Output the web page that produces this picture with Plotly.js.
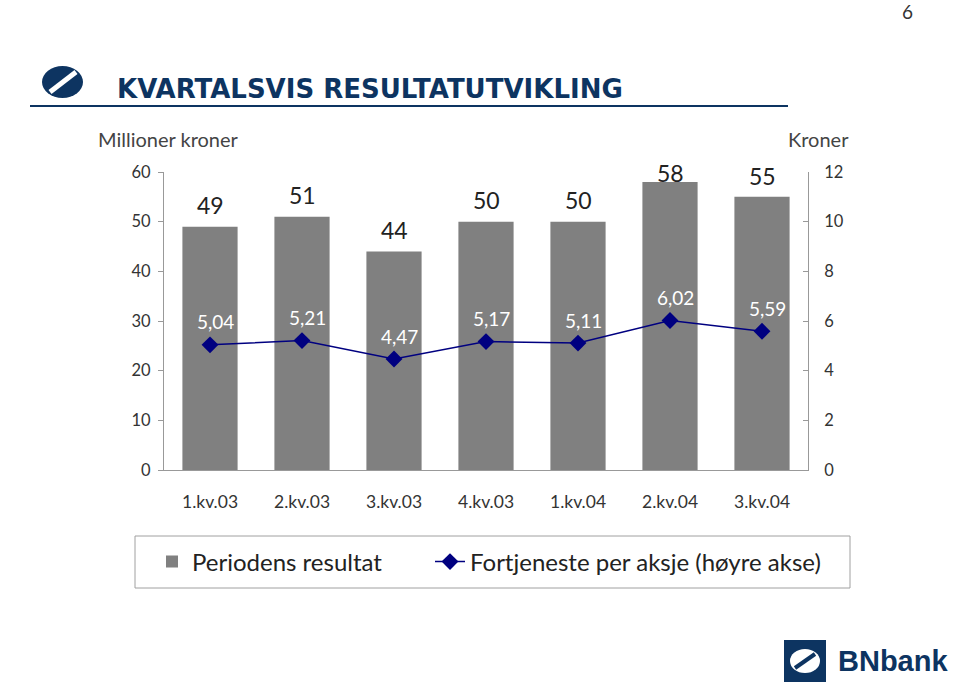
<!DOCTYPE html>
<html>
<head>
<meta charset="utf-8">
<script src="https://cdn.plot.ly/plotly-3.0.1.min.js"></script>
<style>
  html, body { margin: 0; padding: 0; background: #fff; }
  #chart { width: 960px; height: 685px; }
</style>
</head>
<body>
<div id="chart"></div>
<script>
// Kvartalsvis resultatutvikling
const quarters = ['1.kv.03', '2.kv.03', '3.kv.03', '4.kv.03', '1.kv.04', '2.kv.04', '3.kv.04'];
const resultat = [49, 51, 44, 50, 50, 58, 55];          // millioner kroner
const eps = [5.04, 5.21, 4.47, 5.17, 5.11, 6.02, 5.59];  // kroner, right axis

const FONT = 'Lato, "Open Sans", sans-serif';
const NAVY = '#0d3461';
const fmt = v => v.toFixed(2).replace('.', ',');

const barTrace = {
    x: quarters, y: resultat, type: 'bar', name: 'Periodens resultat',
    marker: {color: '#808080'}, hoverinfo: 'skip', legend: 'legend'
};
const lineTrace = {
    x: quarters, y: eps, type: 'scatter', mode: 'lines+markers', yaxis: 'y2',
    name: 'Fortjeneste per aksje (høyre akse)', legend: 'legend2',
    line: {color: '#000080', width: 1.5},
    marker: {symbol: 'diamond', size: 13, color: '#000080'}
};

// labels over bars / points
const barLift = [22, 22, 21, 22, 22, 9, 21];
const annotations = [];
quarters.forEach((q, i) => {
    annotations.push({x: q, y: resultat[i], xref: 'x', yref: 'y', text: String(resultat[i]),
        showarrow: false, yshift: barLift[i], font: {family: FONT, size: 23, color: '#222'}});
    annotations.push({x: q, y: eps[i], xref: 'x', yref: 'y2', text: fmt(eps[i]),
        showarrow: false, yshift: 23, xshift: 5, font: {family: FONT, size: 19, color: '#fff'}});
});

annotations.push(
    {xref: 'paper', yref: 'paper', x: -0.105, y: 1.11, xanchor: 'left', yanchor: 'middle',
     text: 'Millioner kroner', showarrow: false, font: {family: FONT, size: 20, color: '#444'}},
    {xref: 'paper', yref: 'paper', x: 1.067, y: 1.11, xanchor: 'right', yanchor: 'middle',
     text: 'Kroner', showarrow: false, font: {family: FONT, size: 20, color: '#444'}},
    {xref: 'paper', yref: 'paper', x: -0.076, y: 1.28, xanchor: 'left', yanchor: 'middle',
     text: '<b>KVARTALSVIS RESULTATUTVIKLING</b>', showarrow: false,
     font: {family: '"DejaVu Sans", sans-serif', size: 26, color: NAVY}},
    {xref: 'paper', yref: 'paper', x: 1.155, y: 1.54, xanchor: 'center', yanchor: 'middle',
     text: '6', showarrow: false, font: {family: FONT, size: 19, color: '#333'}},
    {xref: 'paper', yref: 'paper', x: (836 - 164) / 644, y: -0.64, xanchor: 'left', yanchor: 'middle',
     text: '<b>BNbank</b>', showarrow: false,
     font: {family: '"Liberation Sans", Arial, sans-serif', size: 29, color: NAVY}}
);

const px = x => (x - 164) / 644;
const py = y => (470 - y) / 298;

const shapes = [
    // title underline
    {type: 'line', xref: 'paper', yref: 'paper', x0: px(30), x1: px(788), y0: py(106), y1: py(106),
     line: {color: NAVY, width: 2}},
    // top logo
    {type: 'circle', xref: 'paper', yref: 'paper', x0: px(42), x1: px(83), y0: py(98), y1: py(66),
     fillcolor: NAVY, line: {width: 0}},
    {type: 'line', xref: 'paper', yref: 'paper', x0: px(50), x1: px(76), y0: py(92), y1: py(72),
     line: {color: '#fff', width: 5}},
    // legend box
    {type: 'rect', xref: 'paper', yref: 'paper', x0: px(135), x1: px(850), y0: py(588), y1: py(536),
     line: {color: '#a0a0a0', width: 1}},
    // bottom logo
    {type: 'rect', xref: 'paper', yref: 'paper', x0: px(784), x1: px(826), y0: py(682), y1: py(640),
     fillcolor: NAVY, line: {width: 0}},
    {type: 'circle', xref: 'paper', yref: 'paper', x0: px(790), x1: px(820), y0: py(673), y1: py(649),
     fillcolor: '#fff', line: {width: 0}},
    {type: 'line', xref: 'paper', yref: 'paper', x0: px(795), x1: px(815), y0: py(668), y1: py(654),
     line: {color: NAVY, width: 4}}
];

const legendBase = {
    orientation: 'h', xanchor: 'left', yanchor: 'middle', y: py(562),
    bgcolor: 'rgba(0,0,0,0)', borderwidth: 0,
    font: {family: FONT, size: 24, color: '#222'}
};

const layout = {
    width: 960, height: 685,
    margin: {l: 164, r: 152, t: 172, b: 215},
    paper_bgcolor: '#fff', plot_bgcolor: '#fff',
    font: {family: FONT, color: '#333'},
    showlegend: true,
    bargap: 0.4,
    xaxis: {
        type: 'category', showgrid: false, zeroline: false,
        showline: true, linecolor: '#999', linewidth: 1,
        ticks: '', ticklabelstandoff: 16,
        tickfont: {family: FONT, size: 17.5, color: '#333'}
    },
    yaxis: {
        range: [0, 60], dtick: 10, showgrid: false, zeroline: false,
        showline: true, linecolor: '#999', linewidth: 1,
        ticks: 'outside', ticklen: 5, tickcolor: '#999', ticklabelstandoff: 4,
        tickfont: {family: FONT, size: 16.5, color: '#333'}
    },
    yaxis2: {
        range: [0, 12], dtick: 2, overlaying: 'y', side: 'right', showgrid: false, zeroline: false,
        showline: true, linecolor: '#999', linewidth: 1,
        ticks: 'inside', ticklen: 5, tickcolor: '#999', ticklabelstandoff: 12,
        tickfont: {family: FONT, size: 16.5, color: '#333'}
    },
    legend: Object.assign({}, legendBase, {x: px(152)}),
    legend2: Object.assign({}, legendBase, {x: px(430)}),
    annotations: annotations,
    shapes: shapes
};

Plotly.newPlot('chart', [barTrace, lineTrace], layout, {displayModeBar: false, staticPlot: true});
</script>
</body>
</html>
